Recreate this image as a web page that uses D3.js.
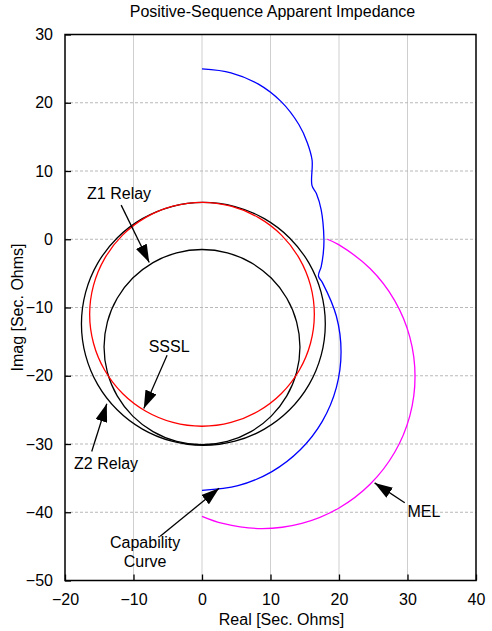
<!DOCTYPE html>
<html>
<head>
<meta charset="utf-8">
<script src="https://cdn.jsdelivr.net/npm/d3@7"></script>
<style>
  body { margin: 0; background: #fff; }
  text { font-family: Arial, "Liberation Sans", Helvetica, sans-serif; fill: #000; }
</style>
</head>
<body>
<div id="chart"></div>
<script>
// axis ticks
var xTicks = [-20, -10, 0, 10, 20, 30, 40];
var yTicks = [30, 20, 10, 0, -10, -20, -30, -40, -50];

// curves, [real, imag] in sec. ohms
var capabilityCurve = [
  [0, 24.95], [4.23, 24.39], [8.18, 22.76], [11.56, 20.16], [14.16, 16.78], [15.36, 14.19],
  [16.07, 11.61], [16.05, 7.9], [16.7, 6.7], [17.4, 4.3], [17.8, 0], [17.7, -2.1],
  [17.4, -4.0], [17.0, -5.4], [17.58, -6.35], [19.61, -11.25], [20.3, -16.5],
  [19.61, -21.75], [17.58, -26.65], [14.35, -30.85], [10.15, -34.08], [5.25, -36.11],
  [0, -36.8]
];

var melCurve = [
  [18.3, 0], [19.95, -0.79], [24.57, -4.33], [28.11, -8.95], [30.34, -14.33], [31.1, -20.1],
  [30.34, -25.87], [28.11, -31.25], [24.57, -35.87], [19.95, -39.41], [14.57, -41.64],
  [8.8, -42.4], [3.03, -41.64], [0, -40.6]
];

var ssslCircle = [
  [16.40, -11.00], [15.84, -6.76], [14.20, -2.80], [11.60, 0.60], [8.20, 3.20], [4.24, 4.84],
  [0, 5.40], [-4.24, 4.84], [-8.20, 3.20], [-11.60, 0.60], [-14.20, -2.80], [-15.84, -6.76],
  [-16.40, -11.00], [-15.84, -15.24], [-14.20, -19.20], [-11.60, -22.60], [-8.20, -25.20], [-4.24, -26.84],
  [0, -27.40], [4.24, -26.84], [8.20, -25.20], [11.60, -22.60], [14.20, -19.20], [15.84, -15.24]
];

var z1Circle = [
  [14.30, -15.80], [13.81, -12.10], [12.38, -8.65], [10.11, -5.69], [7.15, -3.42], [3.70, -1.99],
  [0, -1.50], [-3.70, -1.99], [-7.15, -3.42], [-10.11, -5.69], [-12.38, -8.65], [-13.81, -12.10],
  [-14.30, -15.80], [-13.81, -19.50], [-12.38, -22.95], [-10.11, -25.91], [-7.15, -28.18], [-3.70, -29.61],
  [0, -30.10], [3.70, -29.61], [7.15, -28.18], [10.11, -25.91], [12.38, -22.95], [13.81, -19.50]
];

var z2Circle = [
  [18.00, -12.40], [17.39, -7.79], [15.62, -3.50], [12.79, 0.19], [9.10, 3.02], [4.81, 4.79],
  [0.20, 5.40], [-4.41, 4.79], [-8.70, 3.02], [-12.39, 0.19], [-15.22, -3.50], [-16.99, -7.79],
  [-17.60, -12.40], [-16.99, -17.01], [-15.22, -21.30], [-12.39, -24.99], [-8.70, -27.82], [-4.41, -29.59],
  [0.20, -30.20], [4.81, -29.59], [9.10, -27.82], [12.79, -24.99], [15.62, -21.30], [17.39, -17.01]
];

// labels: text lines, text anchor point, arrow tail, arrow tip (data units)
var labelNames = [["Z1 Relay"], ["SSSL"], ["Z2 Relay"], ["Capability", "Curve"], ["MEL"]];
var labelAt    = [[-12.1, 5.9], [-4.8, -16.5], [-14.0, -33.7], [-8.3, -45.3], [32.4, -40.7]];
var arrowFrom  = [[-11.8, 5.0], [-5.1, -17.0], [-16.1, -31.1], [-6.1, -43.5], [29.6, -38.6]];
var arrowTo    = [[-7.7, -3.4], [-8.5, -24.8], [-13.9, -24.1], [2.5, -36.5], [25.2, -35.7]];

var margin = {top: 34.5, right: 16, bottom: 50.5, left: 65},
    width = 492 - margin.left - margin.right,
    height = 631 - margin.top - margin.bottom;

var svg = d3.select("#chart")
  .append("svg")
    .attr("width", 492)
    .attr("height", 631)
  .append("g")
    .attr("transform", "translate(" + margin.left + "," + margin.top + ")");

var x = d3.scaleLinear().domain([-20, 40]).range([0, width]);
var y = d3.scaleLinear().domain([-50, 30]).range([height, 0]);

// grid: solid verticals, dashed horizontals
svg.append("g")
  .selectAll("line")
  .data(xTicks.slice(1, -1))
  .enter().append("line")
    .attr("x1", function(d) { return x(d); })
    .attr("x2", function(d) { return x(d); })
    .attr("y1", 0).attr("y2", height)
    .attr("stroke", "#cfcfcf").attr("stroke-width", 1);

svg.append("g")
  .selectAll("line")
  .data(yTicks.slice(1, -1))
  .enter().append("line")
    .attr("x1", 0).attr("x2", width)
    .attr("y1", function(d) { return y(d); })
    .attr("y2", function(d) { return y(d); })
    .attr("stroke", "#b8b8b8").attr("stroke-width", 1)
    .attr("stroke-dasharray", "3,2");

// axes with inside ticks
var xAxis = svg.append("g")
  .attr("transform", "translate(0," + height + ")")
  .call(d3.axisBottom(x).tickValues(xTicks).tickSizeInner(-6).tickSizeOuter(0).tickPadding(13));
var yAxis = svg.append("g")
  .call(d3.axisLeft(y).tickValues(yTicks).tickSizeInner(-6).tickSizeOuter(0).tickPadding(12));

[xAxis, yAxis].forEach(function(a) {
  a.select(".domain").remove();
  a.selectAll("line").attr("stroke", "#000").attr("stroke-width", 1.3);
  a.selectAll("text").style("font-size", "16px").attr("fill", "#000")
    .style("font-family", "Arial, 'Liberation Sans', sans-serif");
});

// curves
var line = d3.line()
  .x(function(d) { return x(d[0]); })
  .y(function(d) { return y(d[1]); })
  .curve(d3.curveCatmullRom.alpha(0.5));
var loop = d3.line()
  .x(function(d) { return x(d[0]); })
  .y(function(d) { return y(d[1]); })
  .curve(d3.curveCatmullRomClosed.alpha(0.5));

svg.append("path").datum(z2Circle).attr("d", loop)
  .attr("fill", "none").attr("stroke", "#000").attr("stroke-width", 1.3);
svg.append("path").datum(z1Circle).attr("d", loop)
  .attr("fill", "none").attr("stroke", "#000").attr("stroke-width", 1.3);
svg.append("path").datum(ssslCircle).attr("d", loop)
  .attr("fill", "none").attr("stroke", "#ff0000").attr("stroke-width", 1.3);
svg.append("path").datum(melCurve).attr("d", line)
  .attr("fill", "none").attr("stroke", "#ff00ff").attr("stroke-width", 1.3);
svg.append("path").datum(capabilityCurve).attr("d", line)
  .attr("fill", "none").attr("stroke", "#0000ff").attr("stroke-width", 1.3);

// frame
svg.append("rect")
  .attr("width", width).attr("height", height)
  .attr("fill", "none").attr("stroke", "#000").attr("stroke-width", 1.5);

// arrows + labels
svg.append("defs").append("marker")
  .attr("id", "head")
  .attr("markerUnits", "userSpaceOnUse")
  .attr("viewBox", "0 -6 18 12")
  .attr("refX", 18).attr("refY", 0)
  .attr("markerWidth", 18).attr("markerHeight", 12)
  .attr("orient", "auto")
  .append("path").attr("d", "M0,-6L18,0L0,6Z").attr("fill", "#000");

labelNames.forEach(function(lines, i) {
  svg.append("line")
    .attr("x1", x(arrowFrom[i][0])).attr("y1", y(arrowFrom[i][1]))
    .attr("x2", x(arrowTo[i][0])).attr("y2", y(arrowTo[i][1]))
    .attr("stroke", "#000").attr("stroke-width", 1.3)
    .attr("marker-end", "url(#head)");
  var t = svg.append("text")
    .attr("x", x(labelAt[i][0])).attr("y", y(labelAt[i][1]))
    .attr("text-anchor", "middle")
    .style("font-size", "16px");
  lines.forEach(function(s, j) {
    t.append("tspan").attr("x", x(labelAt[i][0])).attr("dy", j ? 19 : 0).text(s);
  });
});

// titles
svg.append("text")
  .attr("x", width / 2 + 2).attr("y", -17.5)
  .attr("text-anchor", "middle").style("font-size", "16px")
  .text("Positive-Sequence Apparent Impedance");
svg.append("text")
  .attr("x", width / 2 + 11).attr("y", height + 44)
  .attr("text-anchor", "middle").style("font-size", "16px")
  .text("Real [Sec. Ohms]");
svg.append("text")
  .attr("transform", "translate(" + (-42) + "," + (height / 2) + ")rotate(-90)")
  .attr("text-anchor", "middle").style("font-size", "16px")
  .text("Imag [Sec. Ohms]");
</script>
</body>
</html>
